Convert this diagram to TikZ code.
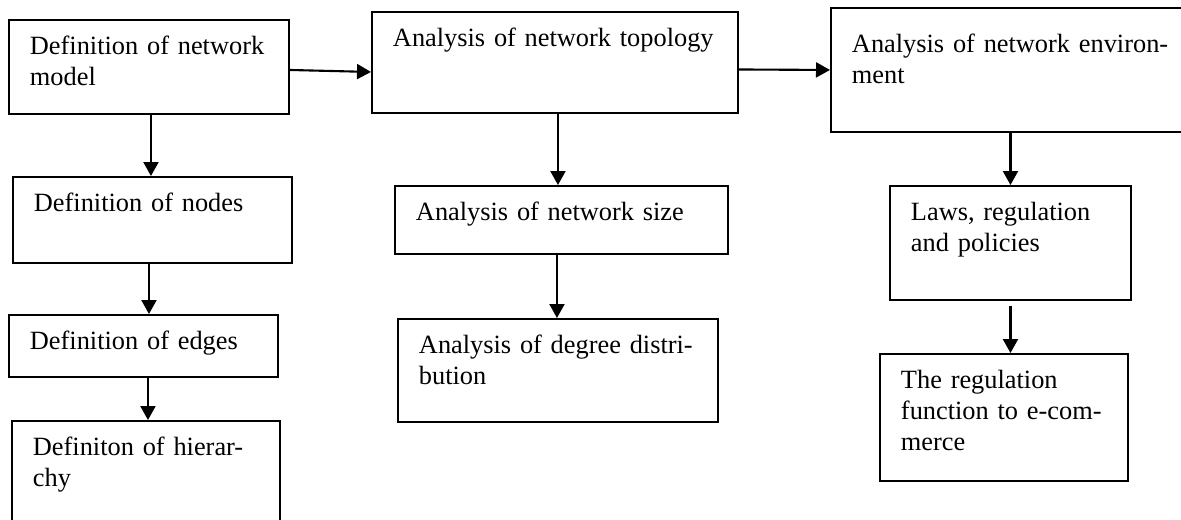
\documentclass[tikz,border=0pt]{standalone}
\usepackage{fontspec}
\setmainfont{Liberation Serif}
\usetikzlibrary{arrows.meta}

\begin{document}
\begin{tikzpicture}[
    >={Triangle[length=0.28cm,width=0.3cm]},
    stage/.style={draw, line width=1.1pt, anchor=north west, align=left,
        inner xsep=0.42cm, inner ysep=0pt, text height=0.70cm,
        font=\fontsize{15}{17.4}\selectfont},
    flow/.style={->, line width=1.2pt}
]
\useasboundingbox (0,0) rectangle (23.62,-10.38);

% top row
\node[stage, text width=4.76cm, text depth=1.18cm] (model) at (0.16,-0.38)
    {Definition of network\\model};
\node[stage, text width=6.48cm, text depth=1.32cm] (topo) at (7.42,-0.22)
    {Analysis of network topology};
\node[stage, text width=6.66cm, text height=0.90cm, text depth=1.58cm] (env) at (16.60,-0.14)
    {Analysis of network environ-\\ment};

% left column
\node[stage, text width=4.74cm, text depth=1.02cm] (nodes) at (0.24,-3.52)
    {Definition of nodes};
\node[stage, text width=4.54cm, text depth=0.54cm] (edges) at (0.16,-6.28)
    {Definition of edges};
\node[stage, text width=4.52cm, text depth=1.60cm] (hier) at (0.22,-8.40)
    {Definiton of hierar-\\chy};

% middle column
\node[stage, text width=5.82cm, text depth=0.66cm] (size) at (7.88,-3.70)
    {Analysis of network size};
\node[stage, text width=5.56cm, text depth=1.36cm] (degree) at (7.94,-6.36)
    {Analysis of degree distri-\\bution};

% right column
\node[stage, text width=3.98cm, text depth=1.58cm] (laws) at (17.78,-3.70)
    {Laws, regulation\\and policies};
\node[stage, text width=4.12cm, text depth=1.84cm] (ecom) at (17.58,-7.06)
    {The regulation\\function to e-com-\\merce};

% connectors
\draw[flow] ([yshift=-0.06cm]model.east) -- ([yshift=-0.19cm]topo.west);
\draw[flow] ([yshift=-0.14cm]topo.east) -- (env.west);

\draw[flow] ([xshift=0.04cm]model.south) -- ([xshift=0.04cm]model.south |- nodes.north);
\draw[flow] ([xshift=-0.07cm]nodes.south) -- ([xshift=-0.07cm]nodes.south |- edges.north);
\draw[flow] ([xshift=0.09cm]edges.south) -- ([xshift=0.09cm]edges.south |- hier.north);

\draw[flow] ([xshift=0.06cm]topo.south) -- ([xshift=0.06cm]topo.south |- size.north);
\draw[flow] ([xshift=-0.09cm]size.south) -- ([xshift=-0.09cm]size.south |- degree.north);

\draw[flow] (laws.north |- env.south) -- (laws.north);
\draw[flow] ([yshift=-0.1cm]laws.south) -- (laws.south |- ecom.north);

\end{tikzpicture}
\end{document}
